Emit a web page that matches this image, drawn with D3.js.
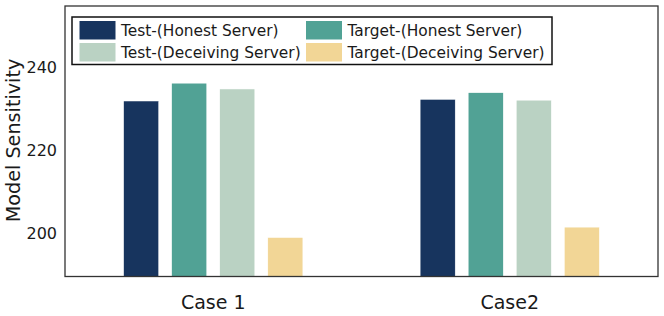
<!DOCTYPE html>
<html>
<head>
<meta charset="utf-8">
<script src="https://cdn.jsdelivr.net/npm/d3@7"></script>
<style>
  body { margin: 0; background: #fff; }
  text { font-family: "DejaVu Sans", sans-serif; fill: #1a1a1a; }
</style>
</head>
<body>
<svg id="chart" width="664" height="316"></svg>
<script>
// data
const cases = ["Case 1", "Case2"];
const seriesNames = ["Test-(Honest Server)", "Target-(Honest Server)", "Test-(Deceiving Server)", "Target-(Deceiving Server)"];
const seriesColors = ["#17345e", "#51a295", "#bad2c3", "#f2d696"];
const testHonest = [231.8, 232.2];
const targetHonest = [236.1, 233.8];
const testDeceiving = [234.7, 232.0];
const targetDeceiving = [198.9, 201.4];
const yTicks = [200, 220, 240];

const values = [testHonest, targetHonest, testDeceiving, targetDeceiving];

const margin = { top: 6, right: 6, bottom: 39.5, left: 65 },
    width = 664 - margin.left - margin.right,
    height = 316 - margin.top - margin.bottom;

const svg = d3.select("#chart");
const g = svg.append("g")
    .attr("transform", "translate(" + margin.left + "," + margin.top + ")");

const x0 = d3.scaleBand().domain(cases).range([0, width]);
const x1 = d3.scaleBand().domain(seriesNames)
    .range([0, x0.bandwidth()])
    .paddingInner(0.27)
    .paddingOuter(1.22);

const y = d3.scaleLinear().domain([189.5, 254.7]).range([height, 0]);

// bars
seriesNames.forEach(function (name, si) {
    g.selectAll(".bar-" + si)
        .data(cases)
        .enter().append("rect")
        .attr("x", function (c) { return x0(c) + x1(name); })
        .attr("width", x1.bandwidth())
        .attr("y", function (c, ci) { return y(values[si][ci]); })
        .attr("height", function (c, ci) { return height - y(values[si][ci]); })
        .style("fill", seriesColors[si])
        .style("stroke", "#fff")
        .style("stroke-width", 0.5);
});

// axes (no tick marks)
const yAxis = d3.axisLeft(y).tickValues(yTicks).tickSize(0).tickPadding(8);
const xAxis = d3.axisBottom(x0).tickSize(0).tickPadding(15);

g.append("g").attr("class", "y axis").call(yAxis)
    .call(function (a) { a.select(".domain").remove(); })
    .selectAll("text").style("font-size", "16px").style("font-family", "DejaVu Sans");

g.append("g").attr("class", "x axis")
    .attr("transform", "translate(0," + height + ")")
    .call(xAxis)
    .call(function (a) { a.select(".domain").remove(); })
    .selectAll("text").style("font-size", "19px").style("font-family", "DejaVu Sans")
    .attr("dy", "0.9em");

// frame
g.append("rect")
    .attr("width", width).attr("height", height)
    .style("fill", "none").style("stroke", "#333").style("stroke-width", 1.3);

// y label
svg.append("text")
    .attr("transform", "translate(20,140.5) rotate(-90)")
    .attr("text-anchor", "middle")
    .style("font-size", "19.2px")
    .text("Model Sensitivity");

// legend
const legend = svg.append("g").attr("transform", "translate(72,17)");
legend.append("rect")
    .attr("width", 480).attr("height", 47.5)
    .style("fill", "#fff").style("stroke", "#111").style("stroke-width", 1.5);

const colX = [7.5, 234];
const rowY = [4, 26];
seriesNames.forEach(function (name, i) {
    const col = i % 2, row = Math.floor(i / 2);
    const item = legend.append("g")
        .attr("transform", "translate(" + colX[col] + "," + rowY[row] + ")");
    item.append("rect")
        .attr("width", 36).attr("height", 18.5)
        .style("fill", seriesColors[i]);
    item.append("text")
        .attr("x", 41.5).attr("y", 9.5)
        .attr("dy", "0.35em")
        .style("font-size", "15.4px")
        .text(name);
});
</script>
</body>
</html>
